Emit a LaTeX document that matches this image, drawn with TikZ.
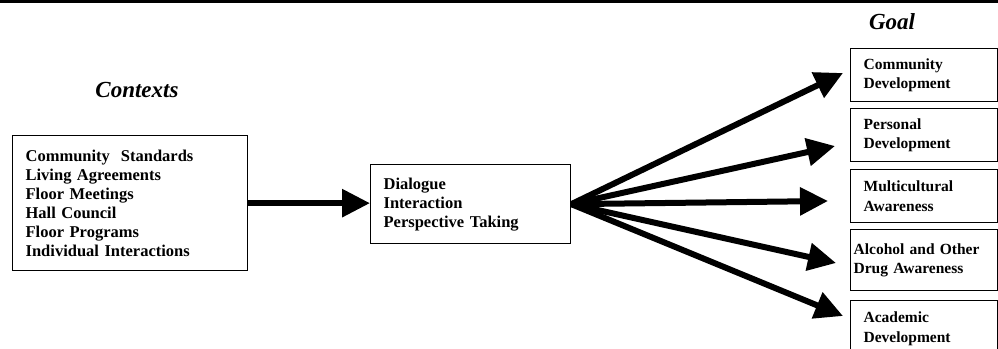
\documentclass[tikz,border=0pt]{standalone}
\usepackage{fontspec}
\setmainfont{Liberation Serif}
\usetikzlibrary{arrows.meta}
\begin{document}
\begin{tikzpicture}[x=1pt,y=-1pt,
  box/.style={draw, line width=1.3pt, anchor=north west, inner sep=0pt, align=left,
    font=\bfseries\fontsize{16.5}{19}\selectfont},
  goalbox/.style={box, minimum width=147pt, text width=121pt,
    font=\bfseries\fontsize{15.5}{19.5}\selectfont},
  bigarrow/.style={line width=6pt, -{Triangle[length=28pt,width=27pt]}},
  head/.style={font=\bfseries\itshape\fontsize{23}{26}\selectfont}]
\useasboundingbox (0,0) rectangle (998,348);
\clip (0,0) rectangle (998,348);
\fill[white] (0,0) rectangle (998,348);
\draw[line width=3pt] (0,1.5) -- (998,1.5);

\node[head] (contexts) at (137,90) {Contexts};
\node[head] (goal) at (892,22) {Goal};

\node[box, minimum width=235pt, minimum height=135pt, text width=209pt] (ctx) at (12,135)
  {Community\ \ Standards\\Living Agreements\\Floor Meetings\\Hall Council\\Floor Programs\\Individual Interactions};
\node[box, minimum width=200pt, minimum height=79pt, text width=174pt] (mid) at (370,164)
  {Dialogue\\Interaction\\Perspective Taking};

\node[goalbox, minimum height=53pt] (g1) at (850,48) {Community\\Development};
\node[goalbox, minimum height=53pt] (g2) at (850,108) {Personal\\Development};
\node[goalbox, minimum height=53pt] (g3) at (850,169) {Multicultural\\Awareness};
\node[goalbox, minimum height=61pt, text width=141pt] (g4) at (850,229) {Alcohol and Other\\Drug Awareness};
\node[goalbox, minimum height=56pt] (g5) at (850,300) {Academic\\Development};

\coordinate (t1) at (843,73);
\coordinate (t2) at (835,146);
\coordinate (t3) at (828,201);
\coordinate (t4) at (836,263);
\coordinate (t5) at (843,316);

\draw[bigarrow] (ctx.east) -- (ctx.east -| mid.west);
\draw[bigarrow] (mid.east) -- (t1);
\draw[bigarrow] (mid.east) -- (t2);
\draw[bigarrow] (mid.east) -- (t3);
\draw[bigarrow] (mid.east) -- (t4);
\draw[bigarrow] (mid.east) -- (t5);
\end{tikzpicture}
\end{document}
